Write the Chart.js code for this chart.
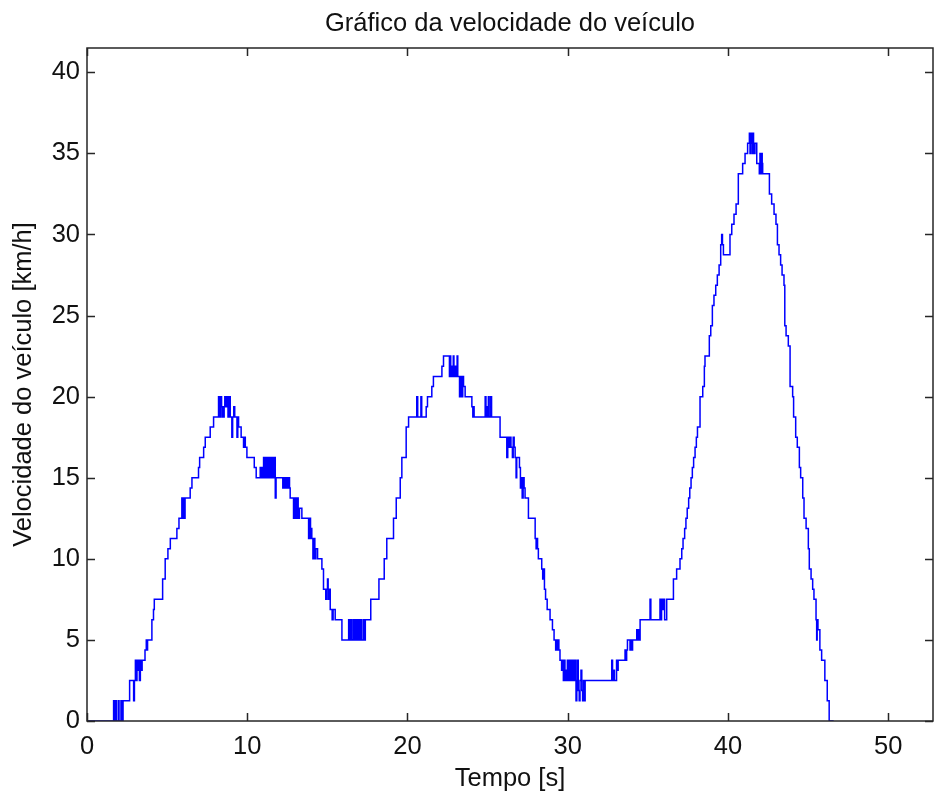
<!DOCTYPE html>
<html lang="pt">
<head>
  <meta charset="UTF-8" />
  <title>Velocidade do veículo</title>
  <script src="https://cdn.jsdelivr.net/npm/chart.js"></script>
  <style>
    body { margin: 0; background: #fff; }
    #grafico { display: block; }
  </style>
</head>
<body>
  <canvas id="grafico" width="934" height="796"></canvas>

  <script>
    // tempo [s] e velocidade [km/h] (degraus)
    const tempo = [
      0, 1.66, 1.71, 1.78, 1.83, 1.95, 2.00, 2.12, 2.17, 2.25,
      2.66, 2.91, 2.96, 3.02, 3.07, 3.12, 3.17, 3.22, 3.27, 3.33,
      3.38, 3.44, 3.62, 3.70, 3.74, 3.78, 4.05, 4.15, 4.20, 4.72,
      4.88, 5.05, 5.20, 5.61, 5.74, 5.92, 5.97, 6.02, 6.07, 6.12,
      6.44, 6.55, 6.96, 7.03, 7.28, 7.38, 7.69, 7.90, 8.21, 8.27,
      8.34, 8.40, 8.44, 8.48, 8.52, 8.56, 8.60, 8.66, 8.72, 8.80,
      8.88, 8.94, 9.04, 9.09, 9.16, 9.22, 9.36, 9.41, 9.46, 9.62,
      9.77, 9.82, 9.88, 9.98, 10.44, 10.56, 10.81, 10.86, 10.91, 10.96,
      11.02, 11.07, 11.12, 11.20, 11.25, 11.33, 11.40, 11.48, 11.53, 11.62,
      11.68, 11.75, 11.80, 12.22, 12.30, 12.36, 12.44, 12.50, 12.58, 12.64,
      12.68, 12.89, 12.95, 13.02, 13.10, 13.18, 13.26, 13.41, 13.83, 13.88,
      13.95, 14.00, 14.03, 14.10, 14.15, 14.22, 14.28, 14.39, 14.66, 14.76,
      14.90, 14.95, 15.01, 15.05, 15.12, 15.18, 15.30, 15.36, 15.49, 15.91,
      16.33, 16.38, 16.44, 16.50, 16.60, 16.66, 16.75, 16.80, 16.85, 16.91,
      16.98, 17.04, 17.10, 17.16, 17.27, 17.32, 17.37, 17.71, 18.22, 18.55,
      18.71, 19.13, 19.30, 19.55, 19.65, 19.92, 20.07, 20.58, 20.64, 20.84,
      20.89, 21.17, 21.25, 21.52, 21.62, 22.15, 22.25, 22.62, 22.66, 22.70,
      22.74, 22.78, 22.82, 22.86, 22.90, 22.96, 23.04, 23.10, 23.14, 23.25,
      23.30, 23.38, 23.45, 23.50, 23.60, 24.02, 24.08, 24.12, 24.16, 24.85,
      24.90, 24.95, 25.00, 25.05, 25.10, 25.20, 25.25, 25.78, 26.20, 26.26,
      26.32, 26.40, 26.46, 26.55, 26.60, 26.66, 26.72, 26.78, 26.82, 26.99,
      27.05, 27.10, 27.16, 27.22, 27.28, 27.34, 27.55, 27.97, 28.03, 28.08,
      28.12, 28.17, 28.38, 28.44, 28.50, 28.55, 28.62, 28.72, 28.90, 29.05,
      29.15, 29.25, 29.29, 29.33, 29.38, 29.45, 29.52, 29.62, 29.66, 29.73,
      29.78, 29.83, 29.88, 29.93, 29.98, 30.05, 30.12, 30.18, 30.22, 30.30,
      30.36, 30.41, 30.46, 30.52, 30.57, 30.62, 30.66, 30.72, 30.77, 30.83,
      30.88, 30.93, 30.98, 31.03, 31.09, 32.75, 32.80, 32.86, 32.92, 33.05,
      33.10, 33.15, 33.58, 33.63, 33.68, 33.73, 33.89, 33.95, 34.00, 34.05,
      34.31, 34.36, 34.41, 34.47, 34.52, 35.14, 35.19, 35.76, 35.81, 35.86,
      35.92, 36.00, 36.05, 36.18, 36.60, 36.80, 37.01, 37.12, 37.20, 37.30,
      37.38, 37.46, 37.55, 37.62, 37.70, 37.78, 37.86, 37.95, 38.03, 38.10,
      38.26, 38.43, 38.53, 38.57, 38.84, 38.93, 39.03, 39.13, 39.24, 39.34,
      39.45, 39.55, 39.61, 39.66, 39.72, 40.13, 40.24, 40.38, 40.51, 40.65,
      40.92, 41.07, 41.23, 41.34, 41.38, 41.42, 41.47, 41.52, 41.56, 41.60,
      41.65, 41.69, 41.80, 41.96, 42.00, 42.05, 42.10, 42.14, 42.17, 42.59,
      42.73, 42.88, 43.00, 43.09, 43.19, 43.29, 43.38, 43.50, 43.55, 43.63,
      43.77, 43.88, 44.04, 44.10, 44.23, 44.33, 44.46, 44.54, 44.67, 44.75,
      44.88, 45.02, 45.08, 45.19, 45.29, 45.37, 45.50, 45.54, 45.57, 45.62,
      45.74, 45.85, 46.05, 46.20, 46.32, 46.60
    ];

    const velocidade = [
      0, 1.25, 0, 1.25, 0, 1.25, 0, 1.25, 0, 1.25,
      2.5, 1.25, 2.5, 3.75, 2.5, 3.75, 3.125, 3.75, 2.5, 3.75,
      3.125, 3.75, 4.375, 5, 4.375, 5, 6.25, 6.875, 7.5, 8.75,
      10, 10.625, 11.25, 11.875, 12.5, 13.75, 12.5, 13.75, 12.5, 13.75,
      14.375, 15, 15.625, 16.25, 16.875, 17.5, 18.125, 18.75, 20, 18.75,
      20, 19.375, 18.75, 19.375, 18.75, 19.375, 20, 19.375, 20, 18.75,
      20, 18.75, 17.5, 18.75, 19.375, 18.75, 17.5, 18.75, 18.125, 17.5,
      16.875, 17.5, 16.875, 16.25, 15.625, 15, 15.625, 15, 15.625, 15,
      16.25, 15, 16.25, 15, 16.25, 15, 16.25, 15, 16.25, 15,
      16.25, 13.75, 15, 14.375, 15, 14.375, 15, 14.375, 15, 14.375,
      13.75, 12.5, 13.75, 12.5, 13.75, 12.5, 13.125, 12.5, 11.25, 12.5,
      11.25, 11.875, 11.25, 10, 11.25, 10, 10.625, 10, 9.375, 8.125,
      7.5, 8.125, 8.75, 7.5, 8.125, 6.875, 6.25, 6.875, 6.25, 5,
      6.25, 5, 6.25, 5, 6.25, 5, 6.25, 5, 6.25, 5,
      6.25, 5, 6.25, 5, 6.25, 5, 6.25, 7.5, 8.75, 10,
      11.25, 12.5, 13.75, 15, 16.25, 18.125, 18.75, 20, 18.75, 20,
      18.75, 19.375, 20, 20.625, 21.25, 21.875, 22.5, 21.25, 22.5, 21.875,
      21.25, 21.875, 21.25, 22.5, 21.25, 21.875, 21.25, 22.5, 21.25, 20,
      21.25, 20, 21.25, 20.625, 20, 19.375, 18.75, 19.375, 18.75, 20,
      18.75, 19.375, 18.75, 20, 18.75, 20, 18.75, 17.5, 16.25, 17.5,
      16.875, 17.5, 16.875, 16.25, 17.5, 16.875, 16.25, 15, 16.25, 15.625,
      14.375, 15, 13.75, 15, 14.375, 13.75, 12.5, 11.25, 10.625, 11.25,
      10.625, 10, 9.375, 8.75, 9.375, 8.125, 7.5, 6.875, 6.25, 5.625,
      5, 4.375, 5, 4.375, 5, 4.375, 3.75, 3.125, 3.75, 2.5,
      3.75, 2.5, 3.125, 2.5, 3.75, 2.5, 3.75, 2.5, 3.75, 2.5,
      3.75, 2.5, 3.75, 1.25, 2.5, 3.75, 1.875, 1.25, 2.5, 3.125,
      1.875, 1.25, 2.5, 1.25, 2.5, 3.75, 2.5, 3.125, 2.5, 3.75,
      3.125, 3.75, 4.375, 3.75, 4.375, 5, 4.375, 5, 4.375, 5,
      5.625, 5, 5.625, 5, 6.25, 7.5, 6.25, 7.5, 6.25, 7.5,
      6.875, 7.5, 6.25, 7.5, 8.75, 9.375, 10, 10.625, 11.25, 11.875,
      12.5, 13.125, 13.75, 14.375, 15, 15.625, 16.25, 16.875, 17.5, 18.125,
      20, 20.625, 21.875, 22.5, 23.75, 24.375, 25.625, 26.25, 26.875, 27.5,
      28.125, 29.375, 30, 29.375, 28.75, 30, 30.625, 31.25, 31.875, 33.75,
      34.375, 35, 35.625, 36.25, 35, 36.25, 35.625, 35, 36.25, 35.625,
      35, 35.625, 34.375, 33.75, 35, 33.75, 35, 34.375, 33.75, 32.5,
      31.875, 31.25, 30.625, 29.375, 28.75, 28.125, 27.5, 26.875, 24.375, 23.75,
      23.125, 20.625, 20, 18.75, 17.5, 16.875, 15.625, 15, 13.75, 12.5,
      11.875, 10.625, 9.375, 8.75, 8.125, 7.5, 6.25, 5, 6.25, 5.625,
      4.375, 3.75, 2.5, 1.25, 0, 0
    ];

    const ticksX = [0, 10, 20, 30, 40, 50];
    const ticksY = [0, 5, 10, 15, 20, 25, 30, 35, 40];

    const FONTE = "'Liberation Sans', Arial, sans-serif";
    const TAM = 25.5;

    // caixa dos eixos com marcas para dentro (estilo matlab)
    const caixaEixos = {
      id: 'caixaEixos',
      afterDraw(chart) {
        const { ctx, chartArea: a, scales } = chart;
        const L = 8;
        ctx.save();
        ctx.strokeStyle = '#262626';
        ctx.lineWidth = 1.5;
        ctx.strokeRect(a.left, a.top, a.right - a.left, a.bottom - a.top);
        ctx.beginPath();
        scales.x.ticks.forEach(t => {
          const px = Math.round(scales.x.getPixelForValue(t.value)) + 0.5;
          ctx.moveTo(px, a.bottom); ctx.lineTo(px, a.bottom - L);
          ctx.moveTo(px, a.top); ctx.lineTo(px, a.top + L);
        });
        scales.y.ticks.forEach(t => {
          const py = Math.round(scales.y.getPixelForValue(t.value)) + 0.5;
          ctx.moveTo(a.left, py); ctx.lineTo(a.left + L, py);
          ctx.moveTo(a.right, py); ctx.lineTo(a.right - L, py);
        });
        ctx.stroke();
        ctx.restore();
      }
    };

    new Chart(document.getElementById('grafico'), {
      type: 'line',
      data: {
        datasets: [{
          data: tempo.map((t, i) => ({ x: t, y: velocidade[i] })),
          stepped: true,
          borderColor: '#0000ff',
          borderWidth: 1.5,
          pointRadius: 0,
          fill: false
        }]
      },
      options: {
        responsive: false,
        animation: false,
        layout: { padding: { left: 0, right: 1, top: 0, bottom: 0 } },
        plugins: {
          legend: { display: false },
          tooltip: { enabled: false },
          title: {
            display: true,
            fullSize: false,
            text: 'Gráfico da velocidade do veículo',
            color: '#111',
            font: { family: FONTE, size: TAM, weight: 'normal' },
            padding: { top: 8.5, bottom: 8.9 }
          }
        },
        scales: {
          x: {
            type: 'linear',
            min: 0,
            max: 52.8,
            afterFit(s) { s.height = 75; },
            afterBuildTicks(s) { s.ticks = ticksX.map(v => ({ value: v })); },
            grid: { display: false, drawTicks: false },
            border: { display: false },
            ticks: {
              color: '#111',
              padding: 11,
              maxRotation: 0,
              font: { family: FONTE, size: TAM }
            },
            title: {
              display: true,
              text: 'Tempo [s]',
              color: '#111',
              padding: { top: 0, bottom: 1.5 },
              font: { family: FONTE, size: TAM }
            }
          },
          y: {
            type: 'linear',
            min: 0,
            max: 41.5,
            afterFit(s) { s.width = 87; },
            afterBuildTicks(s) { s.ticks = ticksY.map(v => ({ value: v })); },
            grid: { display: false, drawTicks: false },
            border: { display: false },
            ticks: {
              color: '#111',
              padding: 7,
              font: { family: FONTE, size: TAM }
            },
            title: {
              display: true,
              text: 'Velocidade do veículo [km/h]',
              color: '#111',
              padding: { top: 8.5, bottom: 0 },
              font: { family: FONTE, size: TAM }
            }
          }
        }
      },
      plugins: [caixaEixos]
    });
  </script>
</body>
</html>
